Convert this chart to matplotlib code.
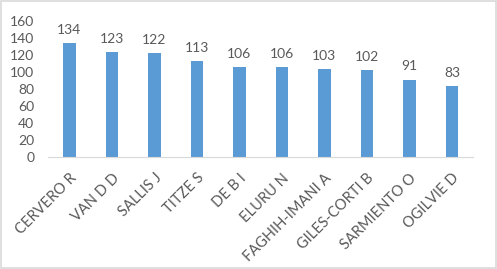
import matplotlib.pyplot as plt
from matplotlib.patches import Rectangle

# authors and their counts
authors = ["CERVERO R", "VAN D D", "SALLIS J", "TITZE S", "DE B I", "ELURU N",
           "FAGHIH-IMANI A", "GILES-CORTI B", "SARMIENTO O", "OGILVIE D"]
counts = [134, 123, 122, 113, 106, 106, 103, 102, 91, 83]
yticks = [0, 20, 40, 60, 80, 100, 120, 140, 160]

txt = "#595959"
plt.rcParams['font.family'] = ['Lato', 'DejaVu Sans']

fig = plt.figure(figsize=(4.97, 2.69), dpi=100)
ax = fig.add_axes([0.097, 0.416, 0.855, 0.506])

x = range(len(authors))
bars = ax.bar(x, counts, width=0.30, color="#5B9BD5")

# value labels above bars
for xi, v in zip(x, counts):
    ax.text(xi, v + 11, str(v), ha="center", va="baseline", fontsize=10, color=txt)

ax.set_xlim(-0.5, len(authors) - 0.5)
ax.set_ylim(0, 160)
ax.set_yticks(yticks)
ax.set_xticks(list(x))
ax.set_xticklabels(authors, rotation=45, ha="right", rotation_mode="anchor",
                   fontsize=10.5, color=txt)
ax.tick_params(axis="y", labelsize=10, labelcolor=txt, length=0, pad=10)
ax.tick_params(axis="x", length=0, pad=10)

for s in ["top", "right", "left"]:
    ax.spines[s].set_visible(False)
ax.spines["bottom"].set_color("#d9d9d9")

# outer chart border
fig.patches.append(Rectangle((0.003, 0.005), 0.994, 0.99, transform=fig.transFigure,
                             fill=False, edgecolor="#d9d9d9", linewidth=1.2))

fig.savefig("out.png", dpi=100)
